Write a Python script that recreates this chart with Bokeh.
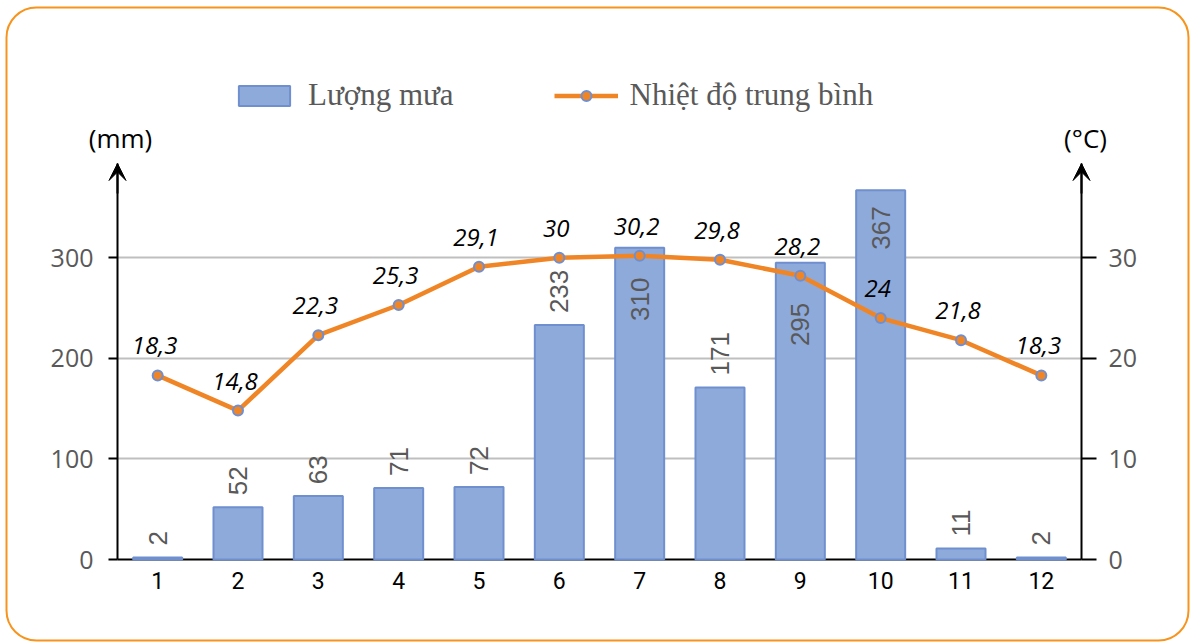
from math import pi
from bokeh.plotting import figure
from bokeh.core.properties import value
from bokeh.models import (Range1d, LinearAxis, FixedTicker, ColumnDataSource, LabelSet, Label,
                          Legend, LegendItem, Arrow, VeeHead, BoxAnnotation)
from bokeh.embed import file_html
from bokeh.resources import INLINE

# ---- data ----
months = [1, 2, 3, 4, 5, 6, 7, 8, 9, 10, 11, 12]
rain = [2, 52, 63, 71, 72, 233, 310, 171, 295, 367, 11, 2]
temp = [18.3, 14.8, 22.3, 25.3, 29.1, 30, 30.2, 29.8, 28.2, 24, 21.8, 18.3]
rain_ticks = [0, 100, 200, 300]
temp_ticks = [0, 10, 20, 30]
rain_name = "Lượng mưa"
temp_name = "Nhiệt độ trung bình"
rain_unit = "(mm)"
temp_unit = "(°C)"

# ---- styles / layout ----
BAR_FILL = "#8eaadb"
BAR_LINE = "#6f8fcf"
LINE_COL = "#f08526"
MARK_LINE = "#6f8fcf"
GRID_COL = "#bfbfbf"
TICK_TXT = "#595959"
BORDER_COL = "#f7941d"
inside_gap = {7: 30, 9: 40, 10: 16}   # rain labels drawn inside the bar (gap from top, px)

W, H = 1191, 642
FL, FR, FB = 117, 1081, 559          # frame left / right / bottom (px)
TIP = 163                            # arrow tip = top of the vertical axes (px)
PX_MM = 1.006                        # px per mm on the rain axis
PX_X = (FR - FL) / 12.0              # px per month
Y_MAX = (FB - TIP) / PX_MM

# ranges of the full-canvas drawing layer, aligned with the axes layer
X0 = 0.5 - FL / PX_X
X1 = 12.5 + (W - FR) / PX_X
Y0 = -(H - FB) / PX_MM
Y1 = FB / PX_MM


def cx(px):
    return X0 + px / PX_X


def cy(py):
    return Y0 + (H - py) / PX_MM


# ---- layer 1: axes and grid ----
a = figure(width=W, height=H, x_range=Range1d(0.5, 12.5), y_range=Range1d(0, Y_MAX),
           output_backend="svg", toolbar_location=None,
           min_border_left=FL, min_border_right=W - FR, min_border_top=TIP,
           min_border_bottom=H - FB,
           outline_line_color=None, background_fill_color="white", border_fill_color="white")
a.extra_y_ranges = {"t": Range1d(0, Y_MAX / 10)}

xa = a.xaxis[0]
xa.ticker = FixedTicker(ticks=months)
xa.major_tick_out = 0
xa.major_tick_in = 0
xa.minor_tick_line_color = None
xa.axis_line_width = 2
xa.axis_line_color = "black"
xa.major_label_text_font = "Roboto"
xa.major_label_text_font_size = "23px"
xa.major_label_text_color = "black"
xa.major_label_standoff = 12

ya = a.yaxis[0]
ya.ticker = FixedTicker(ticks=rain_ticks)
ra = LinearAxis(y_range_name="t", ticker=FixedTicker(ticks=temp_ticks))
a.add_layout(ra, "right")
for ax, tick_len, standoff in ((ya, 9, 15), (ra, 15, 12)):
    ax.major_tick_out = tick_len
    ax.major_tick_in = 0
    ax.minor_tick_line_color = None
    ax.axis_line_width = 2
    ax.major_tick_line_width = 2
    ax.axis_line_color = "black"
    ax.major_tick_line_color = "black"
    ax.major_label_text_font = "Open Sans"
    ax.major_label_text_font_size = "25px"
    ax.major_label_text_color = TICK_TXT
    ax.major_label_standoff = standoff

a.xgrid.visible = False
a.ygrid.ticker = FixedTicker(ticks=rain_ticks[1:])
a.ygrid.grid_line_color = GRID_COL
a.ygrid.grid_line_width = 2

# ---- layer 2: data marks, labels, legend (full canvas frame) ----
p = figure(width=W, height=H, x_range=Range1d(X0, X1), y_range=Range1d(Y0, Y1),
           output_backend="svg", toolbar_location=None, x_axis_type=None, y_axis_type=None,
           min_border=0, outline_line_color=None, background_fill_color=None,
           border_fill_color=None,
           styles={"position": "absolute", "top": "0px", "left": "0px"})
p.grid.visible = False
p.extra_y_ranges = {"t": Range1d(Y0 / 10, Y1 / 10)}

src = ColumnDataSource(dict(x=months, rain=rain, temp=temp,
                            temp_txt=[f"{t:g}".replace(".", ",") for t in temp]))
bars = p.vbar(x="x", top="rain", width=0.61, source=src, fill_color=BAR_FILL,
              line_color=BAR_LINE, line_width=2)
line = p.line(x="x", y="temp", source=src, y_range_name="t", line_color=LINE_COL, line_width=4.5)
marks = p.scatter(x="x", y="temp", source=src, y_range_name="t", size=10,
                  fill_color=LINE_COL, line_color=MARK_LINE, line_width=2)

# rain labels
out_idx = [i for i, m in enumerate(months) if m not in inside_gap]
in_idx = [i for i, m in enumerate(months) if m in inside_gap]
src_out = ColumnDataSource(dict(x=[months[i] for i in out_idx], y=[rain[i] for i in out_idx],
                                t=[str(rain[i]) for i in out_idx]))
src_in = ColumnDataSource(dict(x=[months[i] for i in in_idx], y=[rain[i] for i in in_idx],
                               t=[str(rain[i]) for i in in_idx],
                               off=[-inside_gap[months[i]] for i in in_idx]))
p.add_layout(LabelSet(x="x", y="y", text="t", source=src_out, angle=pi / 2, y_offset=12,
                      text_align="left", text_baseline="middle",
                      text_font=value("Liberation Sans"),
                      text_font_size="26px", text_color=TICK_TXT))
p.add_layout(LabelSet(x="x", y="y", text="t", source=src_in, angle=pi / 2, y_offset="off",
                      text_align="right", text_baseline="middle",
                      text_font=value("Liberation Sans"),
                      text_font_size="26px", text_color=TICK_TXT))

# temperature labels
p.add_layout(LabelSet(x="x", y="temp", text="temp_txt", source=src, y_range_name="t",
                      x_offset=-3, y_offset=21, text_align="center", text_baseline="alphabetic",
                      text_font=value("Open Sans"), text_font_style="italic",
                      text_font_size="24px", text_color="black"))

# legend
legend = Legend(items=[LegendItem(label=rain_name, renderers=[bars]),
                       LegendItem(label=temp_name, renderers=[line, marks])],
                orientation="horizontal", location=(232, H - 97 - 16),
                glyph_width=64, glyph_height=25, label_standoff=12, spacing=100,
                padding=0, margin=0, border_line_color=None, background_fill_alpha=0,
                label_text_font="Liberation Serif", label_text_font_size="31px",
                label_text_color=TICK_TXT)
p.add_layout(legend, "center")

# arrow heads and unit labels of the vertical axes
for xv, unit, dx in ((0.5, rain_unit, 3), (12.5, temp_unit, 4)):
    p.add_layout(Arrow(end=VeeHead(size=17, fill_color="black", line_color="black", line_width=1),
                       x_start=xv, y_start=cy(TIP + 30), x_end=xv, y_end=cy(TIP),
                       line_color="black", line_width=2))
    p.add_layout(Label(x=xv, y=cy(137.5), x_offset=dx, text=unit, text_align="center",
                       text_baseline="middle", text_font="Open Sans", text_font_size="26px",
                       text_color="black"))

# rounded frame around the picture
p.add_layout(BoxAnnotation(left=cx(6), right=cx(1188), top=cy(7), bottom=cy(640),
                           fill_alpha=0, line_color=BORDER_COL, line_alpha=1.0, line_width=2,
                           border_radius=30))

open("out.html", "w").write(file_html([a, p], INLINE))
